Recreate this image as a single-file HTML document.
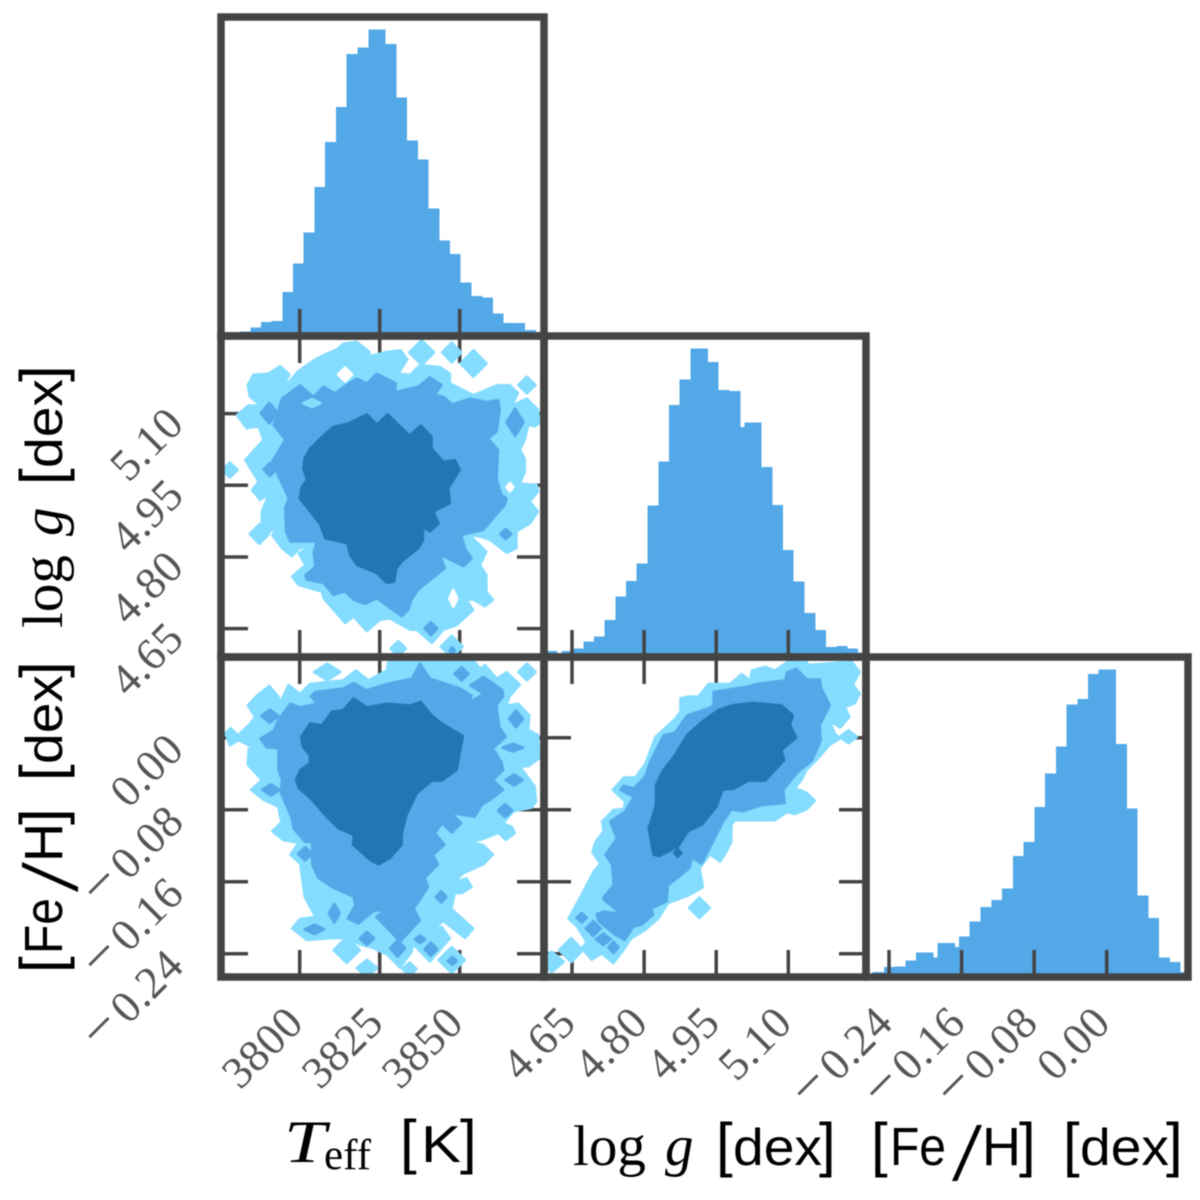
<!DOCTYPE html>
<html lang="en">
<head>
<meta charset="utf-8">
<title>Corner plot</title>
<style>
html,body{margin:0;padding:0;background:#fff;}
svg{display:block;filter:blur(0.4px);}
.sans{font-family:"Liberation Sans",sans-serif;fill:#000;}
.serif{font-family:"Liberation Serif",serif;fill:#000;}
.tick-label{font-family:"Liberation Serif",serif;font-size:45px;letter-spacing:0.7px;fill:#555;}
</style>
</head>
<body>
<svg id="chart" xmlns="http://www.w3.org/2000/svg" width="1200" height="1200" viewBox="0 0 1200 1200">
  <rect x="0" y="0" width="1200" height="1200" fill="#fff"/>
  <g id="panels"></g>
  <g id="tick-labels"></g>

  <g>
    <text class="serif" x="284" y="1162" font-size="60" font-style="italic" textLength="42" lengthAdjust="spacingAndGlyphs">T</text>
    <text class="serif" x="324" y="1169" font-size="43">eff</text>
    <text class="sans" x="400" y="1162" font-size="60">[</text>
    <text class="sans" x="421" y="1162" font-size="52" textLength="40" lengthAdjust="spacingAndGlyphs">K</text>
    <text class="sans" x="460" y="1162" font-size="60">]</text>
  </g>
  <g transform="translate(573,1165)">
    <text class="serif" x="0" y="0" font-size="57">log</text>
    <text class="serif" x="92" y="0" font-size="57" font-style="italic">g</text>
    <text class="sans" x="143" y="0" font-size="60">[</text>
    <text class="sans" x="160" y="0" font-size="52" textLength="89" lengthAdjust="spacingAndGlyphs">dex</text>
    <text class="sans" x="246" y="0" font-size="60">]</text>
  </g>
  <g transform="translate(875,1165)">
    <text class="sans" x="-4" y="0" font-size="60">[</text>
    <text class="sans" x="15" y="0" font-size="54" textLength="56" lengthAdjust="spacingAndGlyphs">Fe</text>
    <text class="serif" x="77" y="15" font-size="84" textLength="30" lengthAdjust="spacingAndGlyphs">/</text>
    <text class="sans" x="107" y="0" font-size="54">H</text>
    <text class="sans" x="144" y="0" font-size="60">]</text>
    <text class="sans" x="188" y="0" font-size="60">[</text>
    <text class="sans" x="205" y="0" font-size="52" textLength="89" lengthAdjust="spacingAndGlyphs">dex</text>
    <text class="sans" x="291" y="0" font-size="60">]</text>
  </g>
  <g transform="translate(62,628) rotate(-90)">
    <text class="serif" x="0" y="0" font-size="57">log</text>
    <text class="serif" x="92" y="0" font-size="57" font-style="italic">g</text>
    <text class="sans" x="143" y="0" font-size="60">[</text>
    <text class="sans" x="160" y="0" font-size="52" textLength="89" lengthAdjust="spacingAndGlyphs">dex</text>
    <text class="sans" x="246" y="0" font-size="60">]</text>
  </g>
  <g transform="translate(62,969) rotate(-90)">
    <text class="sans" x="-4" y="0" font-size="60">[</text>
    <text class="sans" x="15" y="0" font-size="54" textLength="56" lengthAdjust="spacingAndGlyphs">Fe</text>
    <text class="serif" x="77" y="15" font-size="84" textLength="30" lengthAdjust="spacingAndGlyphs">/</text>
    <text class="sans" x="107" y="0" font-size="54">H</text>
    <text class="sans" x="144" y="0" font-size="60">]</text>
    <text class="sans" x="188" y="0" font-size="60">[</text>
    <text class="sans" x="205" y="0" font-size="52" textLength="89" lengthAdjust="spacingAndGlyphs">dex</text>
    <text class="sans" x="291" y="0" font-size="60">]</text>
  </g>
</svg>
<script>
// ---------- tick values ----------
const teffTicks = [3800, 3825, 3850];
const loggTicks = [4.65, 4.80, 4.95, 5.10];
const fehTicks = [-0.24, -0.16, -0.08, 0.00];

// ---------- histograms (bin edges in data units, counts normalised to peak = 1000) ----------
const teffEdges = [3775.5,3781.34,3784.57,3787.9,3791.24,3794.57,3797.9,3801.24,3804.57,3807.9,3811.34,3814.68,3818.1,3821.45,3826.87,3830.2,3833.53,3836.97,3840.3,3843.64,3846.97,3850.3,3853.74,3857.07,3860.4,3863.74,3867.07,3870.4,3873.84,3876];
const teffCounts = [13,14,27,46,49,143,236,337,486,632,746,920,940,1000,952,777,637,576,415,311,268,175,131,126,73,43,43,20,13];
const loggEdges = [4.594,4.620,4.6285,4.65,4.6736,4.6958,4.718,4.7401,4.7623,4.7845,4.8074,4.8296,4.8518,4.874,4.8962,4.9329,4.9551,4.978,5.0002,5.0085,5.0445,5.0667,5.0889,5.1111,5.1333,5.1562,5.1784,5.2005,5.2227,5.2449,5.263];
const loggCounts = [19,12,19,28,50,66,120,196,246,303,491,634,816,899,1000,956,865,861,745,760,616,492,347,244,143,88,32,36,27,15];
const fehEdges = [-0.2628,-0.2580,-0.2455,-0.2338,-0.2220,-0.2102,-0.1911,-0.1863,-0.1672,-0.1628,-0.1511,-0.1393,-0.1272,-0.1154,-0.1036,-0.0919,-0.0798,-0.0680,-0.0562,-0.0445,-0.0323,-0.0206,-0.0088,0.0103,0.0224,0.0342,0.0459,0.0577,0.0695,0.0812,0.0937];
const fehCounts = [12,17,32,34,53,80,64,111,98,132,181,228,250,288,393,439,552,662,749,886,904,984,1000,758,548,265,192,64,49,17];

// ---------- Teff vs log g contours: [Teff, log g] ----------
const teffLoggOuter = [[3780.3,5.097],[3784.0,5.118],[3787.6,5.117],[3784.3,5.136],[3783.7,5.160],[3785.5,5.182],[3790.2,5.184],[3793.9,5.200],[3796.8,5.182],[3794.4,5.150],[3799.3,5.188],[3804.3,5.212],[3807.4,5.223],[3811.6,5.235],[3813.6,5.247],[3817.8,5.251],[3821.8,5.230],[3822.0,5.221],[3827.2,5.230],[3831.6,5.233],[3833.7,5.214],[3831.0,5.184],[3834.5,5.182],[3837.6,5.202],[3843.9,5.198],[3847.0,5.184],[3847.0,5.164],[3854.3,5.139],[3861.6,5.160],[3865.7,5.160],[3868.3,5.143],[3866.3,5.118],[3871.0,5.132],[3874.6,5.108],[3874.9,5.080],[3873.5,5.073],[3871.5,5.076],[3870.4,5.045],[3868.9,5.024],[3870.4,5.006],[3870.4,4.978],[3868.9,4.954],[3874.1,4.951],[3874.6,4.937],[3872.0,4.916],[3874.6,4.895],[3872.0,4.870],[3867.8,4.853],[3867.8,4.818],[3864.7,4.808],[3859.5,4.835],[3856.4,4.842],[3853.2,4.846],[3855.3,4.832],[3858.4,4.811],[3856.4,4.783],[3858.4,4.762],[3858.4,4.727],[3860.5,4.710],[3857.9,4.696],[3854.3,4.710],[3852.2,4.710],[3854.3,4.689],[3849.1,4.657],[3844.9,4.647],[3841.3,4.619],[3836.6,4.647],[3834.5,4.647],[3828.2,4.671],[3825.1,4.668],[3821.0,4.644],[3817.3,4.671],[3818.3,4.682],[3814.2,4.661],[3807.4,4.713],[3806.9,4.727],[3803.2,4.734],[3799.6,4.741],[3797.5,4.759],[3801.7,4.783],[3799.6,4.808],[3803.2,4.821],[3800.1,4.818],[3797.5,4.801],[3794.4,4.818],[3791.3,4.846],[3793.3,4.863],[3790.7,4.853],[3788.1,4.867],[3788.1,4.895],[3790.2,4.930],[3787.6,4.919],[3785.0,4.940],[3787.1,4.958],[3782.9,5.003],[3788.6,5.045],[3787.1,5.073],[3783.4,5.069]];
const teffLoggMiddle = [[3791.8,5.076],[3794.4,5.132],[3800.1,5.160],[3804.3,5.136],[3807.4,5.157],[3811.0,5.143],[3814.2,5.159],[3817.8,5.174],[3821.0,5.164],[3824.1,5.184],[3830.1,5.164],[3829.8,5.146],[3837.1,5.157],[3840.7,5.177],[3844.4,5.160],[3842.3,5.139],[3844.9,5.136],[3847.7,5.120],[3853.2,5.132],[3858.4,5.125],[3862.1,5.129],[3862.6,5.108],[3861.6,5.062],[3859.0,5.048],[3862.1,5.024],[3861.6,4.965],[3863.1,4.930],[3864.7,4.923],[3864.2,4.909],[3860.5,4.881],[3857.4,4.856],[3850.6,4.846],[3851.7,4.818],[3853.8,4.797],[3851.2,4.780],[3843.9,4.804],[3845.4,4.776],[3837.1,4.731],[3835.0,4.710],[3834.0,4.689],[3831.9,4.675],[3824.1,4.713],[3820.4,4.701],[3816.8,4.710],[3814.2,4.727],[3810.5,4.720],[3807.4,4.745],[3802.2,4.752],[3801.7,4.762],[3804.8,4.780],[3804.3,4.811],[3805.3,4.832],[3797.0,4.832],[3795.7,4.853],[3795.4,4.902],[3796.5,4.923],[3793.6,4.965],[3791.3,5.000],[3795.4,5.045]];
const teffLoggInner = [[3801.4,5.006],[3803.2,5.027],[3807.4,5.055],[3810.5,5.073],[3815.2,5.080],[3821.0,5.099],[3824.1,5.078],[3827.5,5.099],[3834.3,5.055],[3837.8,5.076],[3841.3,5.052],[3841.3,5.027],[3844.9,5.000],[3848.5,5.003],[3850.1,4.982],[3846.5,4.944],[3847.0,4.912],[3841.8,4.895],[3843.5,4.870],[3840.7,4.853],[3838.6,4.861],[3838.6,4.835],[3837.1,4.818],[3831.9,4.790],[3830.3,4.776],[3829.6,4.748],[3827.2,4.745],[3824.1,4.766],[3817.8,4.783],[3815.7,4.804],[3814.9,4.828],[3807.9,4.839],[3806.4,4.867],[3803.2,4.895],[3799.9,4.923],[3800.6,4.947],[3802.2,4.961],[3801.1,4.985]];
// islands: [Teff, log g, half-width K, half-height dex]
const teffLoggOuterSpots = [[3778.2,4.982,2.3,0.015],[3787.4,4.848,2.9,0.020],[3838.1,5.228,3.8,0.025],[3847.5,5.228,2.9,0.020],[3854.3,5.205,4.0,0.027],[3871.0,5.160,2.6,0.017],[3830.8,4.608,2.3,0.015],[3847.5,4.612,3.3,0.022]];
const teffLoggEmptySpots = [[3814.2,5.182,2.1,0.014],[3848.0,4.713,1.2,0.017],[3865.7,4.946,1.0,0.008]];
const teffLoggMiddleSpots = [[3790.5,5.101,2.6,0.021],[3790.7,4.983,1.9,0.013],[3867.3,5.082,2.6,0.028],[3864.4,4.848,1.6,0.010],[3841.0,4.650,1.9,0.013],[3847.7,4.604,0.8,0.006]];
const teffLoggOuterHoles = [[3803.8,5.122,2.6,0.008]];

// ---------- Teff vs [Fe/H] contours: [Teff, [Fe/H]] ----------
const teffFehOuter = [[3776.7,0.005],[3778.4,0.011],[3780.8,0.003],[3784.5,0.016],[3786.0,0.023],[3783.7,0.036],[3786.6,0.047],[3790.5,0.058],[3793.3,0.046],[3793.9,0.040],[3796.5,0.059],[3800.1,0.049],[3803.2,0.060],[3813.6,0.064],[3817.6,0.075],[3821.5,0.064],[3827.2,0.075],[3827.7,0.086],[3854.3,0.086],[3856.4,0.077],[3857.9,0.081],[3861.6,0.066],[3864.7,0.073],[3868.9,0.059],[3865.7,0.046],[3864.7,0.036],[3868.3,0.038],[3871.8,0.025],[3871.5,0.009],[3874.6,0.003],[3874.9,-0.023],[3871.5,-0.032],[3868.9,-0.032],[3873.5,-0.054],[3873.9,-0.071],[3872.5,-0.078],[3866.8,-0.082],[3863.7,-0.095],[3866.3,-0.099],[3867.3,-0.106],[3864.4,-0.114],[3862.1,-0.106],[3856.4,-0.114],[3853.2,-0.116],[3857.4,-0.119],[3860.5,-0.130],[3857.4,-0.141],[3851.1,-0.151],[3848.5,-0.160],[3852.2,-0.156],[3853.8,-0.166],[3850.6,-0.173],[3848.5,-0.173],[3847.5,-0.190],[3854.3,-0.212],[3851.7,-0.223],[3844.9,-0.204],[3841.8,-0.212],[3844.4,-0.210],[3847.0,-0.223],[3840.7,-0.249],[3835.5,-0.230],[3835.0,-0.238],[3831.4,-0.256],[3827.2,-0.241],[3823.0,-0.234],[3818.9,-0.230],[3814.7,-0.223],[3809.5,-0.223],[3802.2,-0.225],[3797.5,-0.212],[3800.1,-0.201],[3804.8,-0.199],[3801.5,-0.177],[3800.1,-0.140],[3797.0,-0.130],[3799.6,-0.117],[3794.9,-0.114],[3791.3,-0.104],[3794.4,-0.093],[3793.9,-0.090],[3793.3,-0.077],[3788.6,-0.069],[3784.7,-0.058],[3788.1,-0.047],[3783.7,-0.030],[3784.0,-0.012],[3786.0,-0.012],[3780.8,-0.003],[3778.2,-0.009]];
const teffFehMiddle = [[3787.6,-0.001],[3791.8,0.008],[3793.3,0.020],[3797.0,0.038],[3800.1,0.034],[3805.3,0.038],[3803.4,0.046],[3804.8,0.051],[3813.6,0.055],[3816.8,0.061],[3821.0,0.053],[3827.2,0.060],[3835.0,0.066],[3837.6,0.083],[3840.7,0.066],[3850.1,0.055],[3853.8,0.047],[3853.2,0.040],[3857.4,0.049],[3853.2,0.058],[3857.4,0.068],[3863.4,0.053],[3863.7,0.046],[3861.6,0.036],[3862.4,0.012],[3864.5,0.001],[3860.5,-0.012],[3863.1,-0.027],[3863.7,-0.036],[3860.5,-0.047],[3863.7,-0.058],[3860.5,-0.067],[3856.9,-0.075],[3854.8,-0.088],[3847.0,-0.084],[3842.3,-0.106],[3845.4,-0.119],[3841.8,-0.130],[3843.3,-0.141],[3839.2,-0.156],[3840.2,-0.166],[3835.7,-0.190],[3837.6,-0.203],[3831.4,-0.227],[3823.8,-0.199],[3826.7,-0.191],[3823.0,-0.193],[3818.3,-0.207],[3814.9,-0.201],[3817.3,-0.186],[3816.8,-0.177],[3810.5,-0.167],[3805.8,-0.156],[3803.8,-0.141],[3803.8,-0.116],[3801.7,-0.116],[3798.0,-0.101],[3797.5,-0.090],[3793.9,-0.060],[3794.4,-0.047],[3793.3,-0.036],[3793.3,-0.012],[3789.7,-0.011]];
const teffFehInner = [[3800.4,0.001],[3803.2,0.016],[3806.9,0.014],[3810.0,0.029],[3813.6,0.031],[3816.8,0.044],[3821.0,0.034],[3827.2,0.038],[3834.5,0.036],[3837.8,0.040],[3841.3,0.025],[3844.4,0.016],[3851.1,0.002],[3849.1,-0.036],[3844.4,-0.048],[3841.3,-0.048],[3836.6,-0.062],[3833.4,-0.086],[3831.9,-0.108],[3831.9,-0.119],[3828.2,-0.134],[3824.6,-0.141],[3822.0,-0.136],[3816.6,-0.119],[3816.8,-0.108],[3812.1,-0.101],[3808.4,-0.088],[3803.2,-0.067],[3799.6,-0.056],[3798.8,-0.047],[3800.1,-0.036],[3803.2,-0.028],[3803.0,-0.019],[3800.9,-0.010]];
const teffFehOuterSpots = [[3871.0,0.073,2.6,0.009],[3808.6,0.073,4.0,0.009],[3814.7,-0.236,4.0,0.014],[3821.0,-0.256,3.1,0.009],[3834.3,-0.257,2.1,0.007],[3847.5,-0.247,4.0,0.014]];
const teffFehEmptySpots = [];
const teffFehMiddleSpots = [[3790.7,0.024,2.6,0.007],[3791.0,-0.058,2.6,0.006],[3867.6,0.021,2.1,0.009],[3866.6,-0.011,3.1,0.004],[3867.0,-0.047,2.6,0.006],[3864.2,-0.081,2.1,0.007],[3847.5,-0.095,2.9,0.010],[3801.7,-0.129,2.1,0.007],[3850.6,0.071,2.1,0.007],[3810.8,-0.195,1.6,0.010],[3804.6,-0.213,2.9,0.005],[3821.0,-0.223,2.1,0.007],[3830.6,-0.234,2.3,0.009],[3837.6,-0.224,1.5,0.004],[3841.0,-0.235,1.9,0.007],[3844.2,-0.177,1.6,0.006],[3847.7,-0.248,1.3,0.004]];
const teffFehOuterHoles = [];

// ---------- log g vs [Fe/H] contours: [log g, [Fe/H]] ----------
const loggFehOuter = [[4.642,-0.201],[4.667,-0.177],[4.694,-0.149],[4.708,-0.140],[4.692,-0.127],[4.698,-0.116],[4.715,-0.104],[4.712,-0.093],[4.736,-0.080],[4.757,-0.079],[4.760,-0.071],[4.734,-0.058],[4.757,-0.044],[4.781,-0.044],[4.802,-0.029],[4.823,0.001],[4.864,0.021],[4.875,0.029],[4.875,0.044],[4.892,0.046],[4.913,0.046],[4.934,0.060],[4.979,0.060],[5.003,0.071],[5.020,0.064],[5.024,0.075],[5.052,0.079],[5.072,0.075],[5.100,0.085],[5.138,0.085],[5.147,0.075],[5.142,0.081],[5.232,0.085],[5.249,0.073],[5.235,0.059],[5.249,0.049],[5.239,0.038],[5.218,0.034],[5.228,0.023],[5.208,0.011],[5.187,0.018],[5.197,0.005],[5.208,-0.001],[5.187,-0.008],[5.159,-0.025],[5.138,-0.036],[5.128,-0.047],[5.114,-0.056],[5.138,-0.061],[5.156,-0.070],[5.138,-0.080],[5.114,-0.085],[5.097,-0.083],[5.072,-0.092],[5.017,-0.092],[4.989,-0.092],[4.982,-0.097],[4.982,-0.116],[4.968,-0.130],[4.958,-0.138],[4.937,-0.130],[4.916,-0.145],[4.923,-0.166],[4.895,-0.175],[4.850,-0.184],[4.830,-0.201],[4.802,-0.214],[4.774,-0.223],[4.760,-0.234],[4.736,-0.251],[4.712,-0.240],[4.691,-0.247],[4.670,-0.234],[4.680,-0.227],[4.660,-0.210]];
const loggFehMiddle = [[4.715,-0.177],[4.736,-0.164],[4.733,-0.141],[4.719,-0.130],[4.743,-0.112],[4.729,-0.093],[4.760,-0.082],[4.778,-0.066],[4.750,-0.058],[4.757,-0.053],[4.778,-0.056],[4.802,-0.043],[4.812,-0.027],[4.840,0.003],[4.864,0.006],[4.889,0.025],[4.934,0.033],[4.944,0.036],[4.944,0.051],[4.989,0.055],[5.017,0.057],[5.034,0.060],[5.093,0.064],[5.097,0.073],[5.117,0.077],[5.138,0.065],[5.166,0.065],[5.169,0.055],[5.187,0.036],[5.166,0.014],[5.168,-0.003],[5.149,-0.026],[5.121,-0.038],[5.104,-0.049],[5.090,-0.058],[5.093,-0.073],[5.045,-0.075],[5.006,-0.082],[4.982,-0.080],[4.965,-0.093],[4.947,-0.112],[4.920,-0.140],[4.899,-0.134],[4.895,-0.145],[4.850,-0.164],[4.847,-0.182],[4.816,-0.190],[4.819,-0.197],[4.795,-0.208],[4.778,-0.210],[4.760,-0.225],[4.739,-0.219],[4.705,-0.204],[4.701,-0.196],[4.715,-0.193],[4.750,-0.195],[4.715,-0.180]];
const loggFehInner = [[4.809,-0.101],[4.824,-0.075],[4.824,-0.053],[4.837,-0.038],[4.864,-0.019],[4.889,0.003],[4.920,0.018],[4.954,0.031],[4.982,0.036],[5.027,0.039],[5.086,0.036],[5.110,0.025],[5.104,0.014],[5.117,0.000],[5.086,-0.014],[5.092,-0.025],[5.052,-0.048],[5.017,-0.048],[4.986,-0.057],[4.963,-0.058],[4.951,-0.077],[4.920,-0.097],[4.892,-0.104],[4.871,-0.121],[4.831,-0.132],[4.819,-0.130]];
const loggFehOuterSpots = [[4.648,-0.236,0.024,0.013],[4.608,-0.249,0.024,0.011],[4.915,-0.189,0.021,0.011],[5.225,0.001,0.017,0.007]];
const loggFehEmptySpots = [];
const loggFehMiddleSpots = [[4.670,-0.200,0.010,0.005],[4.694,-0.212,0.015,0.008],[4.715,-0.224,0.015,0.006],[4.736,-0.233,0.010,0.006]];
const loggFehOuterHoles = [];
const loggFehInnerSpots = [[4.870,-0.128,0.007,0.004]];

// ---------- axes ----------
const SVGNS = 'http://www.w3.org/2000/svg';
const FRAME = '#444444', HIST = '#53a9e8', LIGHT = '#84dcff', MID = '#53a9e8', DARK = '#2077b4';
const colEdges = [221, 544, 866, 1188];
const rowEdges = [17, 336, 657, 977];
const TICK_LEN = 27;

function linear(d0, d1, r0, r1) {
  return function (v) { return r0 + (v - d0) * (r1 - r0) / (d1 - d0); };
}
const xTeff = linear(3775.41, 3876.34, colEdges[0], colEdges[1]);
const xLogg = linear(4.5917, 5.2616, colEdges[1], colEdges[2]);
const xFeh = linear(-0.2654, 0.0896, colEdges[2], colEdges[3]);
const yLogg = linear(5.2626, 4.5905, rowEdges[1], rowEdges[2]);
const yFeh = linear(0.0897, -0.2659, rowEdges[2], rowEdges[3]);

const panelsRoot = document.getElementById('panels');
const labelsRoot = document.getElementById('tick-labels');

function make(tag, attrs, parent) {
  const el = document.createElementNS(SVGNS, tag);
  for (const k in attrs) el.setAttribute(k, attrs[k]);
  parent.appendChild(el);
  return el;
}

function panelGroup(name, col, row) {
  const x = colEdges[col], y = rowEdges[row], w = colEdges[col + 1] - x, h = rowEdges[row + 1] - y;
  const clip = make('clipPath', { id: 'clip-' + name }, panelsRoot);
  make('rect', { x: x, y: y, width: w, height: h }, clip);
  const g = make('g', { 'clip-path': 'url(#clip-' + name + ')' }, panelsRoot);
  
  
  return { g: g, x: x, y: y, w: w, h: h, name: name };
}

function drawTickX(p, vals, sx, both) {
  vals.forEach(function (v) {
    const px = sx(v);
    const t = make('line', { x1: px, x2: px, y1: p.y + p.h, y2: p.y + p.h - TICK_LEN, stroke: FRAME, 'stroke-width': 3.5 }, p.g);
    
    
    if (both) {
      const u = make('line', { x1: px, x2: px, y1: p.y, y2: p.y + TICK_LEN, stroke: FRAME, 'stroke-width': 3.5 }, p.g);
      
      
    }
  });
}

function drawTickY(p, vals, sy) {
  vals.forEach(function (v) {
    const py = sy(v);
    const l = make('line', { x1: p.x, x2: p.x + TICK_LEN, y1: py, y2: py, stroke: FRAME, 'stroke-width': 3.5 }, p.g);
    
    
    const r = make('line', { x1: p.x + p.w, x2: p.x + p.w - TICK_LEN, y1: py, y2: py, stroke: FRAME, 'stroke-width': 3.5 }, p.g);
    
    
  });
}

function drawFrame(p) {
  const f = make('rect', { x: p.x, y: p.y, width: p.w, height: p.h, fill: 'none', stroke: FRAME, 'stroke-width': 7.5 }, panelsRoot);
  
  
}

function drawHist(p, edges, counts, sx, ticks) {
  const sy = linear(0, 1040, p.y + p.h, p.y);
  counts.forEach(function (c, i) {
    const x0 = sx(edges[i]), x1 = sx(edges[i + 1]);
    const r = make('rect', { x: x0, y: sy(c), width: x1 - x0, height: sy(0) - sy(c), fill: HIST, 'shape-rendering': 'crispEdges' }, p.g);
    
    
  });
  drawTickX(p, ticks, sx, false);
}

function polygon(p, pts, sx, sy, color, name, sw) {
  const s = pts.map(function (q) { return sx(q[0]).toFixed(1) + ',' + sy(q[1]).toFixed(1); }).join(' ');
  const el = make('polygon', { points: s, fill: color, stroke: color, 'stroke-width': sw || 2, 'stroke-linejoin': 'round' }, p.g);
  
  
}

function spots(p, list, sx, sy, color, name) {
  list.forEach(function (q) {
    const pts = [[q[0] - q[2], q[1]], [q[0], q[1] + q[3]], [q[0] + q[2], q[1]], [q[0], q[1] - q[3]]];
    polygon(p, pts, sx, sy, color, name, 3);
  });
}

function drawContours(p, sx, sy, c) {
  polygon(p, c.outer, sx, sy, LIGHT, 'contour-outer');
  spots(p, c.outerSpots, sx, sy, LIGHT, 'contour-outer-island');
  spots(p, c.emptySpots, sx, sy, '#ffffff', 'contour-gap');
  polygon(p, c.middle, sx, sy, MID, 'contour-middle');
  spots(p, c.middleSpots, sx, sy, MID, 'contour-middle-island');
  spots(p, c.outerHoles, sx, sy, LIGHT, 'contour-middle-gap');
  polygon(p, c.inner, sx, sy, DARK, 'contour-inner');
  spots(p, c.innerSpots, sx, sy, DARK, 'contour-inner-island');
}

// diagonal histograms
const p00 = panelGroup('hist-teff', 0, 0);
drawHist(p00, teffEdges, teffCounts, xTeff, teffTicks);
const p11 = panelGroup('hist-logg', 1, 1);
drawHist(p11, loggEdges, loggCounts, xLogg, loggTicks);
const p22 = panelGroup('hist-feh', 2, 2);
drawHist(p22, fehEdges, fehCounts, xFeh, fehTicks);

// off-diagonal contours
const p10 = panelGroup('contour-teff-logg', 0, 1);
drawTickX(p10, teffTicks, xTeff, true);
drawTickY(p10, loggTicks, yLogg);
drawContours(p10, xTeff, yLogg, { outer: teffLoggOuter, middle: teffLoggMiddle, inner: teffLoggInner, outerSpots: teffLoggOuterSpots, emptySpots: teffLoggEmptySpots, middleSpots: teffLoggMiddleSpots, outerHoles: teffLoggOuterHoles, innerSpots: [] });

const p20 = panelGroup('contour-teff-feh', 0, 2);
drawTickX(p20, teffTicks, xTeff, true);
drawTickY(p20, fehTicks, yFeh);
drawContours(p20, xTeff, yFeh, { outer: teffFehOuter, middle: teffFehMiddle, inner: teffFehInner, outerSpots: teffFehOuterSpots, emptySpots: teffFehEmptySpots, middleSpots: teffFehMiddleSpots, outerHoles: teffFehOuterHoles, innerSpots: [] });

const p21 = panelGroup('contour-logg-feh', 1, 2);
drawTickX(p21, loggTicks, xLogg, true);
drawTickY(p21, fehTicks, yFeh);
drawContours(p21, xLogg, yFeh, { outer: loggFehOuter, middle: loggFehMiddle, inner: loggFehInner, outerSpots: loggFehOuterSpots, emptySpots: loggFehEmptySpots, middleSpots: loggFehMiddleSpots, outerHoles: loggFehOuterHoles, innerSpots: loggFehInnerSpots });

[p00, p11, p22, p10, p20, p21].forEach(drawFrame);

// tick labels
function tickText(v, digits, ax, ay, name) {
  const t = make('text', { class: 'tick-label', x: 0, y: 0, 'text-anchor': 'end', transform: 'translate(' + ax.toFixed(1) + ',' + ay.toFixed(1) + ') rotate(-45)' }, labelsRoot);
  if (v < 0) {
    const m = make('tspan', { 'font-size': 58, 'letter-spacing': 6 }, t);
    m.textContent = '\u2212';
  }
  const d = make('tspan', {}, t);
  d.textContent = Math.abs(v).toFixed(digits);
  
  
}

teffTicks.forEach(function (v) { tickText(v, 0, xTeff(v) + 6, 1025, 'x-tick-label-teff'); });
loggTicks.forEach(function (v) { tickText(v, 2, xLogg(v) + 6, 1025, 'x-tick-label-logg'); });
fehTicks.forEach(function (v) { tickText(v, 2, xFeh(v) + 6, 1025, 'x-tick-label-feh'); });
loggTicks.forEach(function (v) { tickText(v, 2, 186, yLogg(v) + 12, 'y-tick-label-logg'); });
fehTicks.forEach(function (v) { tickText(v, 2, 186, yFeh(v) + 14, 'y-tick-label-feh'); });
</script>
</body>
</html>
